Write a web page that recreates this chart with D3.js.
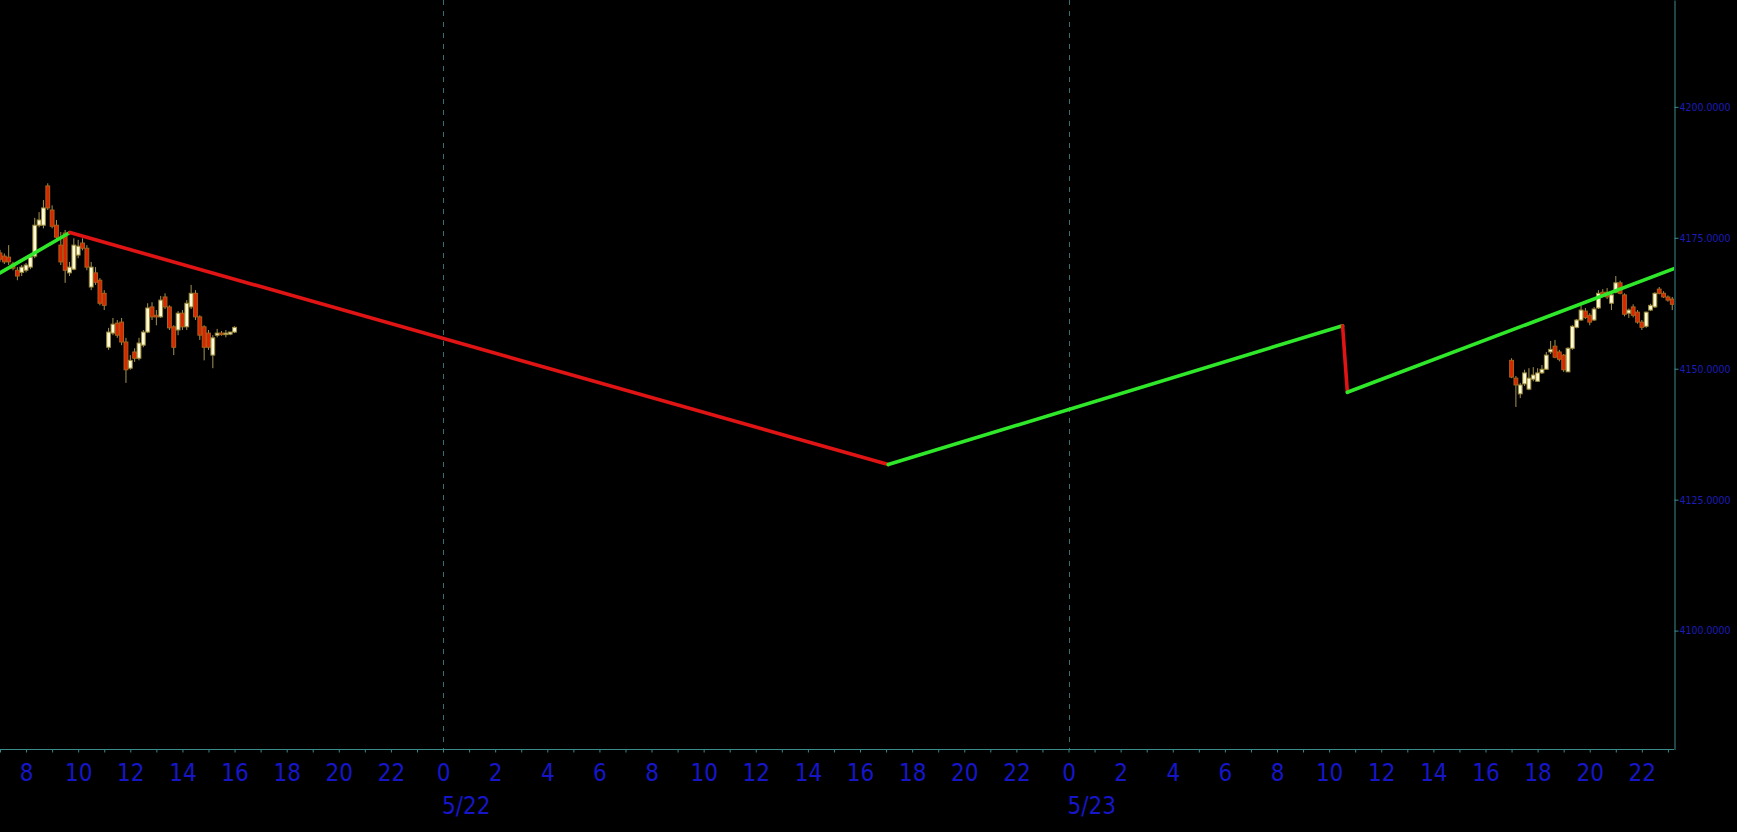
<!DOCTYPE html>
<head>
	<meta charset="utf-8">
	<script src="https://d3js.org/d3.v7.min.js"></script>
	<style>
		body { margin: 0; background: #000; }
		svg { display: block; background: #000; }
		.axis text { font-family: 'DejaVu Sans Condensed', 'DejaVu Sans', sans-serif; font-stretch: condensed; }
	</style>
</head>
<body>
	<svg id="chart" width="1737" height="832"></svg>
	<script>

	// ---- data ----
	// 10 minute bars, [open, high, low, close]
	var barMinutes = 10;
	var session1Start = new Date(2021, 4, 21, 7, 0);
	var session1Bars = [
		[4172.1, 4172.7, 4170.4, 4170.9], [4171.5, 4172.0, 4170.0, 4170.4], [4171.3, 4173.6, 4169.8, 4170.4],
		[4170.0, 4170.4, 4168.8, 4169.2], [4168.8, 4169.4, 4166.9, 4167.7], [4168.4, 4169.8, 4167.7, 4169.4],
		[4168.8, 4170.2, 4168.4, 4169.8], [4169.4, 4171.7, 4169.0, 4171.3], [4171.5, 4178.8, 4171.1, 4177.4],
		[4177.4, 4179.9, 4177.0, 4178.4], [4177.4, 4182.2, 4176.8, 4180.7], [4184.9, 4185.4, 4180.3, 4180.7],
		[4180.3, 4181.2, 4176.8, 4177.2], [4177.4, 4178.4, 4174.6, 4175.1], [4173.6, 4176.1, 4169.8, 4170.4],
		[4175.9, 4176.5, 4166.4, 4168.8], [4168.3, 4170.4, 4167.7, 4169.4], [4169.0, 4174.9, 4168.8, 4173.6],
		[4171.7, 4174.6, 4171.1, 4173.4], [4174.0, 4174.9, 4172.6, 4173.0], [4173.0, 4173.6, 4168.8, 4169.4],
		[4165.6, 4170.4, 4165.0, 4169.4], [4168.3, 4169.4, 4166.0, 4166.5], [4166.9, 4167.3, 4162.1, 4162.5],
		[4164.4, 4165.0, 4161.2, 4162.1], [4154.1, 4157.8, 4153.6, 4157.0], [4156.8, 4159.7, 4156.4, 4158.5],
		[4158.7, 4159.3, 4155.9, 4156.4], [4158.9, 4159.7, 4154.5, 4155.1], [4155.1, 4155.9, 4147.3, 4149.8],
		[4150.1, 4152.6, 4149.8, 4151.6], [4153.2, 4153.9, 4151.3, 4152.0], [4152.0, 4155.9, 4151.6, 4154.9],
		[4154.5, 4157.4, 4154.1, 4157.0], [4157.0, 4162.5, 4156.8, 4161.6], [4161.8, 4162.7, 4159.3, 4159.9],
		[4160.2, 4161.2, 4158.3, 4159.9], [4159.9, 4163.9, 4159.7, 4163.1], [4163.7, 4164.4, 4161.4, 4161.8],
		[4161.8, 4162.1, 4157.4, 4157.8], [4158.0, 4158.3, 4152.6, 4154.1], [4157.4, 4161.0, 4156.4, 4160.6],
		[4160.6, 4161.2, 4157.4, 4158.0], [4158.0, 4163.1, 4157.4, 4162.5], [4161.8, 4166.0, 4161.4, 4164.4],
		[4164.4, 4165.0, 4159.3, 4159.9], [4159.9, 4160.2, 4155.5, 4156.4], [4158.0, 4158.3, 4151.6, 4154.1],
		[4156.8, 4157.4, 4153.6, 4154.1], [4152.6, 4156.4, 4150.1, 4155.9], [4156.4, 4157.6, 4156.0, 4156.8],
		[4156.8, 4157.2, 4156.3, 4156.6], [4156.6, 4157.4, 4156.0, 4156.8], [4156.6, 4157.0, 4156.4, 4157.0],
		[4157.0, 4158.1, 4156.8, 4157.9]
	];
	var session2Start = new Date(2021, 4, 23, 17, 0);
	var session2Bars = [
		[4151.6, 4152.0, 4148.2, 4148.4], [4148.2, 4148.6, 4142.7, 4146.9], [4145.2, 4147.3, 4144.4, 4146.9],
		[4147.1, 4149.8, 4146.7, 4149.2], [4146.1, 4150.1, 4145.9, 4148.2], [4148.0, 4150.3, 4147.6, 4148.8],
		[4147.6, 4150.1, 4147.5, 4149.2], [4149.2, 4150.7, 4149.0, 4149.9], [4149.9, 4153.2, 4149.8, 4152.6],
		[4153.2, 4155.3, 4152.8, 4153.7], [4154.3, 4155.5, 4152.0, 4152.2], [4153.2, 4153.6, 4151.4, 4151.8],
		[4152.6, 4152.8, 4149.4, 4149.8], [4149.4, 4154.1, 4149.4, 4153.9], [4153.9, 4158.3, 4153.6, 4158.1],
		[4157.9, 4159.5, 4157.7, 4159.3], [4159.3, 4162.1, 4159.1, 4161.2], [4161.0, 4161.6, 4159.5, 4159.8],
		[4160.2, 4160.6, 4158.3, 4158.9], [4159.3, 4161.8, 4159.1, 4161.4], [4161.6, 4165.0, 4161.4, 4164.4],
		[4164.6, 4165.2, 4163.9, 4164.1], [4164.6, 4165.4, 4163.3, 4163.7], [4162.5, 4164.4, 4161.2, 4164.1],
		[4164.6, 4167.7, 4164.4, 4166.4], [4166.4, 4166.8, 4164.2, 4164.4], [4164.1, 4164.4, 4160.0, 4160.4],
		[4160.6, 4161.5, 4159.7, 4161.2], [4161.8, 4162.3, 4159.8, 4160.2], [4160.8, 4161.2, 4158.6, 4158.9],
		[4158.9, 4159.3, 4157.4, 4157.9], [4158.1, 4160.9, 4157.8, 4160.8], [4161.2, 4162.4, 4161.0, 4162.1],
		[4161.8, 4164.6, 4161.6, 4164.4], [4165.2, 4165.6, 4164.2, 4164.4], [4164.4, 4164.8, 4163.5, 4163.7],
		[4163.7, 4164.0, 4162.8, 4163.1], [4163.3, 4163.7, 4161.2, 4162.3]
	];

	// trend line vertices
	var trendTimes = [
		new Date(2021, 4, 21, 7, 0), new Date(2021, 4, 21, 9, 41), new Date(2021, 4, 22, 17, 5),
		new Date(2021, 4, 23, 10, 31), new Date(2021, 4, 23, 10, 42), new Date(2021, 4, 23, 23, 14)
	];
	var trendValues = [4168.3, 4176.0, 4131.7, 4158.2, 4145.5, 4169.1];

	var priceTicks = [4100, 4125, 4150, 4175, 4200];
	var dayLines = [new Date(2021, 4, 22), new Date(2021, 4, 23)];

	// ---- layout ----
	var svg = d3.select("#chart"),
		plotW = 1674,
		plotH = 749.5;

	var x = d3.scaleTime()
		.domain([new Date(2021, 4, 21, 7, 0), new Date(2021, 4, 23, 23, 14)])
		.range([0, plotW]);
	var y = d3.scaleLinear()
		.domain([4077.3, 4220.4])
		.range([plotH, 0]);

	var axisColor = "#3b8b8b",
		labelColor = "#1616c8";

	svg.append("defs").append("clipPath").attr("id", "plotclip")
		.append("rect").attr("x", 0).attr("y", 0).attr("width", plotW).attr("height", plotH);

	var plot = svg.append("g").attr("clip-path", "url(#plotclip)");

	// day separators
	plot.selectAll(".dayline")
		.data(dayLines)
		.enter().append("line")
		.attr("x1", function(d) { return Math.round(x(d)) + 0.5; })
		.attr("x2", function(d) { return Math.round(x(d)) + 0.5; })
		.attr("y1", 0).attr("y2", plotH)
		.attr("stroke", "#3a6e6e")
		.attr("stroke-dasharray", "5,6");

	// candles
	function toBars(start, bars) {
		return bars.map(function(b, i) {
			return { t: new Date(start.getTime() + i * barMinutes * 60000), o: b[0], h: b[1], l: b[2], c: b[3] };
		});
	}
	var candles = toBars(session1Start, session1Bars).concat(toBars(session2Start, session2Bars));

	var bodyW = 3.8;
	var cg = plot.selectAll(".candle")
		.data(candles)
		.enter().append("g");

	cg.append("line")
		.attr("x1", function(d) { return x(d.t); })
		.attr("x2", function(d) { return x(d.t); })
		.attr("y1", function(d) { return y(d.h); })
		.attr("y2", function(d) { return y(d.l); })
		.attr("stroke", "#a39455")
		.attr("stroke-width", 1);

	cg.append("rect")
		.attr("x", function(d) { return x(d.t) - bodyW / 2; })
		.attr("width", bodyW)
		.attr("y", function(d) { return y(Math.max(d.o, d.c)); })
		.attr("height", function(d) { return Math.max(1.5, Math.abs(y(d.o) - y(d.c))); })
		.attr("fill", function(d) { return d.c >= d.o ? "#fffbd6" : "#dc2400"; })
		.attr("stroke", function(d) { return d.c >= d.o ? "#9a8a3a" : "#a9631a"; })
		.attr("stroke-width", 1);

	// trend line, coloured by direction
	var segs = d3.range(trendTimes.length - 1).map(function(i) {
		return { t0: trendTimes[i], v0: trendValues[i], t1: trendTimes[i + 1], v1: trendValues[i + 1] };
	});
	plot.selectAll(".seg")
		.data(segs)
		.enter().append("line")
		.attr("x1", function(d) { return x(d.t0); })
		.attr("y1", function(d) { return y(d.v0); })
		.attr("x2", function(d) { return x(d.t1); })
		.attr("y2", function(d) { return y(d.v1); })
		.attr("stroke", function(d) { return d.v1 >= d.v0 ? "#2fe82a" : "#e01414"; })
		.attr("stroke-width", 3.6)
		.attr("stroke-linecap", "round");

	// x axis
	var xAxis = d3.axisBottom(x)
		.ticks(d3.timeHour.every(1))
		.tickSize(3)
		.tickSizeOuter(0)
		.tickFormat(function(d) { return d.getHours() % 2 === 0 ? String(d.getHours()) : ""; });

	var gx = svg.append("g")
		.attr("class", "axis")
		.attr("transform", "translate(0," + plotH + ")")
		.call(xAxis);
	gx.select(".domain").attr("stroke", axisColor).attr("d", "M0,0H" + plotW);
	gx.selectAll(".tick line").attr("stroke", axisColor);
	gx.selectAll(".tick text")
		.attr("y", 31.5).attr("dy", 0)
		.attr("fill", labelColor)
		.style("font-size", "24px");

	// date labels starting at midnight
	gx.selectAll(".datelabel")
		.data(dayLines)
		.enter().append("text")
		.attr("x", function(d) { return x(d) - 1; })
		.attr("y", 64)
		.attr("text-anchor", "start")
		.attr("fill", labelColor)
		.style("font-size", "24px")
		.text(d3.timeFormat("%-m/%-d"));

	// y axis on the right
	var yAxis = d3.axisRight(y)
		.tickValues(priceTicks)
		.tickSize(4)
		.tickPadding(1)
		.tickSizeOuter(0)
		.tickFormat(d3.format(".4f"));

	var gy = svg.append("g")
		.attr("class", "axis")
		.attr("transform", "translate(" + (plotW + 0.5) + ",0)")
		.call(yAxis);
	gy.select(".domain").attr("stroke", axisColor);
	gy.selectAll(".tick line").attr("stroke", axisColor);
	gy.selectAll(".tick text")
		.attr("fill", "#1c1cb8")
		.style("font-size", "10.5px");

</script>
</body>
</html>
